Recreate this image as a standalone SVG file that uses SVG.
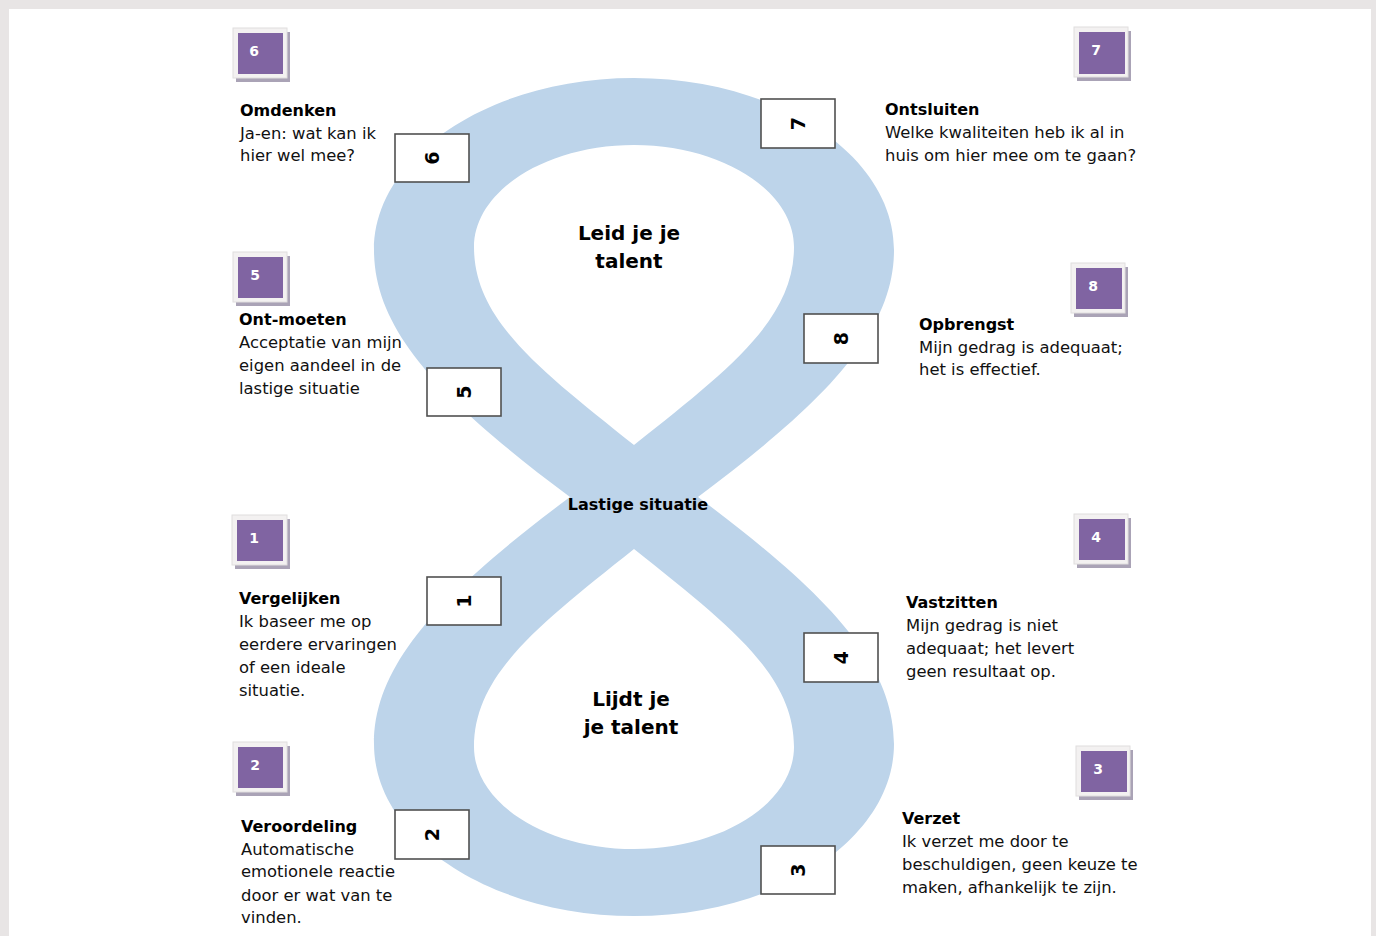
<svg xmlns="http://www.w3.org/2000/svg" width="1376" height="936" viewBox="0 0 1376 936">
<style>
.t{font-family:"DejaVu Sans","Liberation Sans",sans-serif;font-size:16.4px;fill:#111}
.b{font-family:"DejaVu Sans","Liberation Sans",sans-serif;font-size:16px;font-weight:bold;fill:#000}
.c{font-family:"DejaVu Sans","Liberation Sans",sans-serif;font-size:20px;font-weight:bold;fill:#000;text-anchor:middle}
.pn{font-family:"DejaVu Sans","Liberation Sans",sans-serif;font-size:14px;font-weight:bold;fill:#fff;text-anchor:middle}
.bn{font-family:"DejaVu Sans","Liberation Sans",sans-serif;font-size:19px;font-weight:bold;fill:#000;text-anchor:middle}
.frame{fill:#f3f1f1;stroke:#e0dede;stroke-width:1}
.shadow{fill:#aaa3b6}
.purple{fill:#8064a2}
.wbox{fill:#fff;stroke:#505050;stroke-width:1.6}
</style>
<rect x="0" y="0" width="1376" height="936" fill="#e8e5e5"/>
<rect x="9" y="9" width="1362" height="927" fill="#fff"/>

<g id="band">
<path fill="#bdd4ea" d="M570,497 C440,400 374,330 374,250 C374,155 491,78 634,78 C777,78 894,155 894,250 C894,330 828,400 698,497 C828,594 894,664 894,744 C894,839 777,916 634,916 C491,916 374,839 374,744 C374,664 440,594 570,497 Z"/>
<path fill="#fff" d="M634,445 C540,370 474,320 474,247 C474,191 546,145 634,145 C722,145 794,191 794,247 C794,320 728,370 634,445 Z"/>
<path fill="#fff" d="M634,549 C540,624 474,674 474,747 C474,803 546,849 634,849 C722,849 794,803 794,747 C794,674 728,624 634,549 Z"/>
</g>
<g id="connectors"></g>

<g id="center-labels">
<text class="c" x="629" y="240">Leid je je</text>
<text class="c" x="629" y="268">talent</text>
<text class="b" x="638" y="510" text-anchor="middle">Lastige situatie</text>
<text class="c" x="631" y="706">Lijdt je</text>
<text class="c" x="631" y="734">je talent</text>
</g>

<g id="box6"><rect class="wbox" x="395" y="134" width="74" height="48"/><text class="bn" transform="rotate(-90 432 158)" x="432" y="165">6</text></g>
<g id="box7"><rect class="wbox" x="761" y="99" width="74" height="49"/><text class="bn" transform="rotate(-90 798 123.5)" x="798" y="130.5">7</text></g>
<g id="box8"><rect class="wbox" x="804" y="314" width="74" height="49"/><text class="bn" transform="rotate(-90 841 338.5)" x="841" y="345.5">8</text></g>
<g id="box5"><rect class="wbox" x="427" y="368" width="74" height="48"/><text class="bn" transform="rotate(-90 464 392)" x="464" y="399">5</text></g>
<g id="box1"><rect class="wbox" x="427" y="577" width="74" height="48"/><text class="bn" transform="rotate(-90 464 601)" x="464" y="608">1</text></g>
<g id="box4"><rect class="wbox" x="804" y="633" width="74" height="49"/><text class="bn" transform="rotate(-90 841 657.5)" x="841" y="664.5">4</text></g>
<g id="box2"><rect class="wbox" x="395" y="810" width="74" height="49"/><text class="bn" transform="rotate(-90 432 834.5)" x="432" y="841.5">2</text></g>
<g id="box3"><rect class="wbox" x="761" y="846" width="74" height="48"/><text class="bn" transform="rotate(-90 798 870)" x="798" y="877">3</text></g>

<g id="step6">
<rect class="shadow" x="236" y="32" width="54" height="50"/><rect class="frame" x="233" y="28" width="54" height="50"/><rect class="purple" x="238" y="33" width="45" height="41"/><text class="pn" x="254" y="56">6</text>
<text class="b" x="240" y="116">Omdenken</text>
<text class="t" x="240" y="139">Ja-en: wat kan ik</text>
<text class="t" x="240" y="161">hier wel mee?</text>
</g>
<g id="step7">
<rect class="shadow" x="1077" y="31" width="54" height="50"/><rect class="frame" x="1074" y="27" width="54" height="50"/><rect class="purple" x="1079" y="32" width="46" height="42"/><text class="pn" x="1096" y="55">7</text>
<text class="b" x="885" y="115">Ontsluiten</text>
<text class="t" x="885" y="138">Welke kwaliteiten heb ik al in</text>
<text class="t" x="885" y="161">huis om hier mee om te gaan?</text>
</g>
<g id="step5">
<rect class="shadow" x="236" y="256" width="54" height="50"/><rect class="frame" x="233" y="252" width="54" height="50"/><rect class="purple" x="238" y="257" width="45" height="41"/><text class="pn" x="255" y="280">5</text>
<text class="b" x="239" y="325">Ont-moeten</text>
<text class="t" x="239" y="348">Acceptatie van mijn</text>
<text class="t" x="239" y="371">eigen aandeel in de</text>
<text class="t" x="239" y="394">lastige situatie</text>
</g>
<g id="step8">
<rect class="shadow" x="1074" y="267" width="54" height="50"/><rect class="frame" x="1071" y="263" width="54" height="50"/><rect class="purple" x="1076" y="268" width="46" height="41"/><text class="pn" x="1093" y="291">8</text>
<text class="b" x="919" y="330">Opbrengst</text>
<text class="t" x="919" y="353">Mijn gedrag is adequaat;</text>
<text class="t" x="919" y="375">het is effectief.</text>
</g>
<g id="step1">
<rect class="shadow" x="235" y="519" width="55" height="50"/><rect class="frame" x="232" y="515" width="55" height="50"/><rect class="purple" x="237" y="520" width="46" height="41"/><text class="pn" x="254" y="543">1</text>
<text class="b" x="239" y="604">Vergelijken</text>
<text class="t" x="239" y="627">Ik baseer me op</text>
<text class="t" x="239" y="650">eerdere ervaringen</text>
<text class="t" x="239" y="673">of een ideale</text>
<text class="t" x="239" y="696">situatie.</text>
</g>
<g id="step4">
<rect class="shadow" x="1077" y="518" width="54" height="50"/><rect class="frame" x="1074" y="514" width="54" height="50"/><rect class="purple" x="1079" y="519" width="46" height="41"/><text class="pn" x="1096" y="542">4</text>
<text class="b" x="906" y="608">Vastzitten</text>
<text class="t" x="906" y="631">Mijn gedrag is niet</text>
<text class="t" x="906" y="654">adequaat; het levert</text>
<text class="t" x="906" y="677">geen resultaat op.</text>
</g>
<g id="step2">
<rect class="shadow" x="236" y="746" width="54" height="50"/><rect class="frame" x="233" y="742" width="54" height="50"/><rect class="purple" x="238" y="747" width="45" height="41"/><text class="pn" x="255" y="770">2</text>
<text class="b" x="241" y="832">Veroordeling</text>
<text class="t" x="241" y="855">Automatische</text>
<text class="t" x="241" y="877">emotionele reactie</text>
<text class="t" x="241" y="901">door er wat van te</text>
<text class="t" x="241" y="923">vinden.</text>
</g>
<g id="step3">
<rect class="shadow" x="1079" y="750" width="54" height="50"/><rect class="frame" x="1076" y="746" width="54" height="50"/><rect class="purple" x="1081" y="751" width="46" height="41"/><text class="pn" x="1098" y="774">3</text>
<text class="b" x="902" y="824">Verzet</text>
<text class="t" x="902" y="847">Ik verzet me door te</text>
<text class="t" x="902" y="870">beschuldigen, geen keuze te</text>
<text class="t" x="902" y="893">maken, afhankelijk te zijn.</text>
</g>
</svg>
